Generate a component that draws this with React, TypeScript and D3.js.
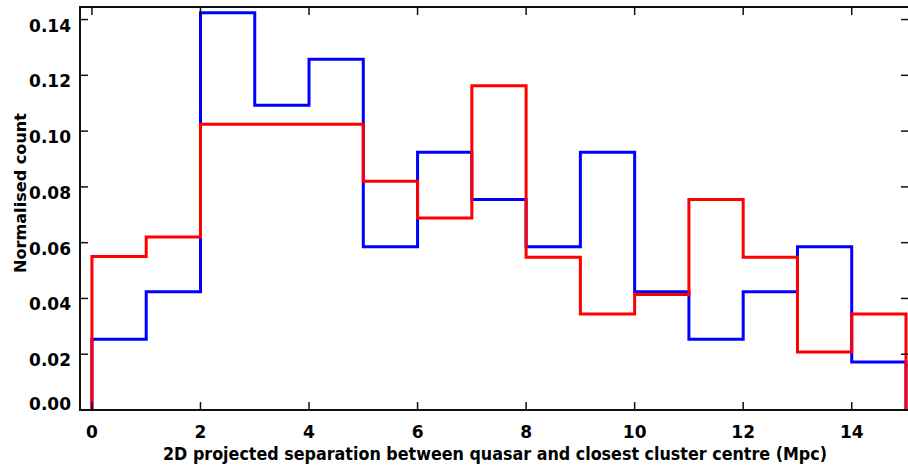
import React from "react";
import * as d3 from "d3";

const binEdges = [0, 1, 2, 3, 4, 5, 6, 7, 8, 9, 10, 11, 12, 13, 14, 15];
const blueValues = [0.0254, 0.0424, 0.1424, 0.1093, 0.1258, 0.0585, 0.0924, 0.0755, 0.0585, 0.0924, 0.0424, 0.0254, 0.0424, 0.0585, 0.0172];
const redValues = [0.0550, 0.0620, 0.1025, 0.1025, 0.1025, 0.0820, 0.0688, 0.1163, 0.0548, 0.0344, 0.0414, 0.0755, 0.0548, 0.0208, 0.0344];
const xTicks = [0, 2, 4, 6, 8, 10, 12, 14];
const yTicks = [0, 0.02, 0.04, 0.06, 0.08, 0.1, 0.12, 0.14];
const xTitle = "2D projected separation between quasar and closest cluster centre (Mpc)";
const yTitle = "Normalised count";

const W = 908;
const H = 472;
const left = 80;
const top = 7;
const bottom = 410;

const x = d3.scaleLinear().domain([-0.22, 15]).range([left, 906]);
const y = d3.scaleLinear().domain([0, 0.1445]).range([bottom, top]);
const right = x(15) + 3;

function stepPoints(vals: number[]): [number, number][] {
  const pts: [number, number][] = [[binEdges[0], 0]];
  vals.forEach((v, i) => {
    pts.push([binEdges[i], v]);
    pts.push([binEdges[i + 1], v]);
  });
  pts.push([binEdges[binEdges.length - 1], 0]);
  return pts;
}

const line = d3
  .line<[number, number]>()
  .x((d) => x(d[0]))
  .y((d) => y(d[1]));

const font = "'DejaVu Sans', sans-serif";

export default function App() {
  const tickLen = 8;
  return (
    <svg
      width={W}
      height={H}
      style={{ position: "absolute", left: 0, top: 0, background: "#fff" }}
    >
      <rect x={0} y={0} width={W} height={H} fill="#fff" />
      <path d={line(stepPoints(blueValues)) || ""} fill="none" stroke="#0000ff" strokeWidth={3} strokeLinejoin="miter" />
      <path d={line(stepPoints(redValues)) || ""} fill="none" stroke="#ff0000" strokeWidth={3} strokeLinejoin="miter" />
      {/* frame */}
      <rect x={left} y={top} width={right - left} height={bottom - top} fill="none" stroke="#111" strokeWidth={2} />
      {xTicks.map((t) => (
        <g key={"xt" + t}>
          <line x1={x(t)} x2={x(t)} y1={bottom} y2={bottom - tickLen} stroke="#111" strokeWidth={1.5} />
          <line x1={x(t)} x2={x(t)} y1={top} y2={top + tickLen} stroke="#111" strokeWidth={1.5} />
          <text x={x(t)} y={438} textAnchor="middle" fontFamily={font} fontWeight="bold" fontSize={17} fill="#000">
            {t}
          </text>
        </g>
      ))}
      {yTicks.map((t) => (
        <g key={"yt" + t}>
          <line x1={left} x2={left + tickLen} y1={y(t)} y2={y(t)} stroke="#111" strokeWidth={1.5} />
          <line x1={right - tickLen} x2={right} y1={y(t)} y2={y(t)} stroke="#111" strokeWidth={1.5} />
          <text x={71} y={Math.min(y(t) + 12, bottom)} textAnchor="end" fontFamily={font} fontWeight="bold" fontSize={17} fill="#000">
            {t.toFixed(2)}
          </text>
        </g>
      ))}
      <text x={163} y={460} textLength={664} lengthAdjust="spacingAndGlyphs" fontFamily={font} fontWeight="bold" fontSize={17} fill="#000">
        {xTitle}
      </text>
      <text
        transform="translate(26,273) rotate(-90)"
        textLength={160}
        lengthAdjust="spacingAndGlyphs"
        fontFamily={font}
        fontWeight="bold"
        fontSize={16}
        fill="#000"
      >
        {yTitle}
      </text>
    </svg>
  );
}
